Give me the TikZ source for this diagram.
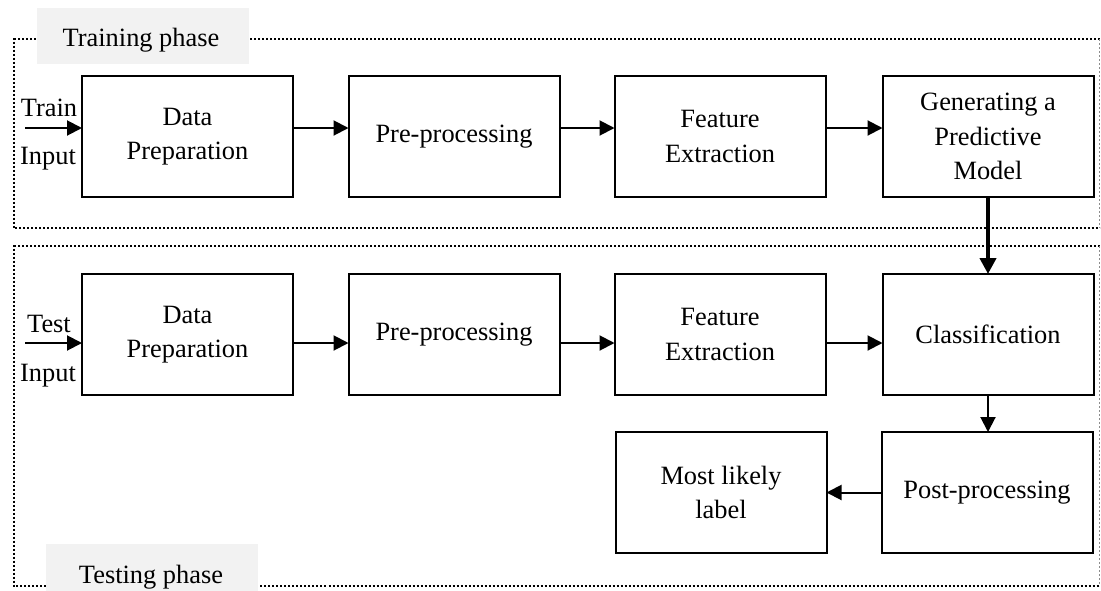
\documentclass[tikz,border=0pt]{standalone}
\usepackage{fontspec}
\setmainfont{Liberation Serif}
\usetikzlibrary{arrows.meta}
\definecolor{lblgray}{RGB}{242,242,242}
\begin{document}
\begin{tikzpicture}[x=1pt,y=-1pt,
  every node/.style={font=\fontsize{26.4}{34.5}\selectfont, inner sep=0pt, outer sep=0pt},
  blk/.style={draw, line width=2pt, minimum width=211pt, minimum height=121pt, align=center},
  arr/.style={line width=2pt, -{Triangle[length=15pt,width=15pt]}},
  bigarr/.style={line width=4pt, -{Triangle[length=16pt,width=16pt]}},
  frame/.style={line width=2pt, dash pattern=on 2pt off 2pt},
  rframe/.style={line width=1pt, dash pattern=on 2pt off 2pt, black!45},
  phase/.style={fill=lblgray, minimum width=212pt, minimum height=56pt}
]
\useasboundingbox (0,0) rectangle (1101,590);
% frames
\draw[frame] (1099.5,39) -- (14,39) -- (14,228) -- (1099.5,228);
\draw[rframe] (1099.5,39) -- (1099.5,228);
\draw[frame] (1099.5,246) -- (14,246) -- (14,586) -- (1099.5,586);
\draw[rframe] (1099.5,246) -- (1099.5,586);
% phase labels
\node[phase] (trl) at (143,36) {};
\node[anchor=base] (trt) at (141,46) {Training phase};
\node[phase, minimum height=50pt] (tsl) at (152,569) {};
\node[anchor=base] (tst) at (151,583) {Testing phase};
% training row
\node[blk] (dp1) at (187.5,136.5) {Data\\Preparation};
\node[blk] (pp1) at (454,136.5) {Pre-processing};
\node[blk] (fe1) at (720,136.5) {Feature\\Extraction};
\node[blk] (gm) at (988,136.5) {Generating a\\Predictive\\Model};
% testing row
\node[blk] (dp2) at (187.5,334.5) {Data\\Preparation};
\node[blk] (pp2) at (454,334.5) {Pre-processing};
\node[blk] (fe2) at (720,334.5) {Feature\\Extraction};
\node[blk] (cl) at (988,334.5) {Classification};
\node[blk] (po) at (987,492.5) {Post-processing};
\node[blk] (ml) at (721,492.5) {Most likely\\label};
% inputs
\node[anchor=base] (trin1) at (49,116) {Train};
\node[anchor=base] (trin2) at (48,164) {Input};
\coordinate (trs) at (25,128);
\node[anchor=base] (tsin1) at (49,332) {Test};
\node[anchor=base] (tsin2) at (48,381) {Input};
\coordinate (tss) at (25,343);
\draw[arr] (trs) -- (dp1.west |- trs);
\draw[arr] (tss) -- (dp2.west |- tss);
% training arrows
\draw[arr] (dp1.east |- 0,128) -- (pp1.west |- 0,128);
\draw[arr] (pp1.east |- 0,128) -- (fe1.west |- 0,128);
\draw[arr] (fe1.east |- 0,128) -- (gm.west |- 0,128);
% testing arrows
\draw[arr] (dp2.east |- 0,343) -- (pp2.west |- 0,343);
\draw[arr] (pp2.east |- 0,343) -- (fe2.west |- 0,343);
\draw[arr] (fe2.east |- 0,343) -- (cl.west |- 0,343);
% vertical
\draw[bigarr] (gm.south) -- (cl.north);
\draw[arr] (cl.south) -- (cl.south |- po.north);
\draw[arr] (po.west) -- (ml.east);
\end{tikzpicture}
\end{document}
